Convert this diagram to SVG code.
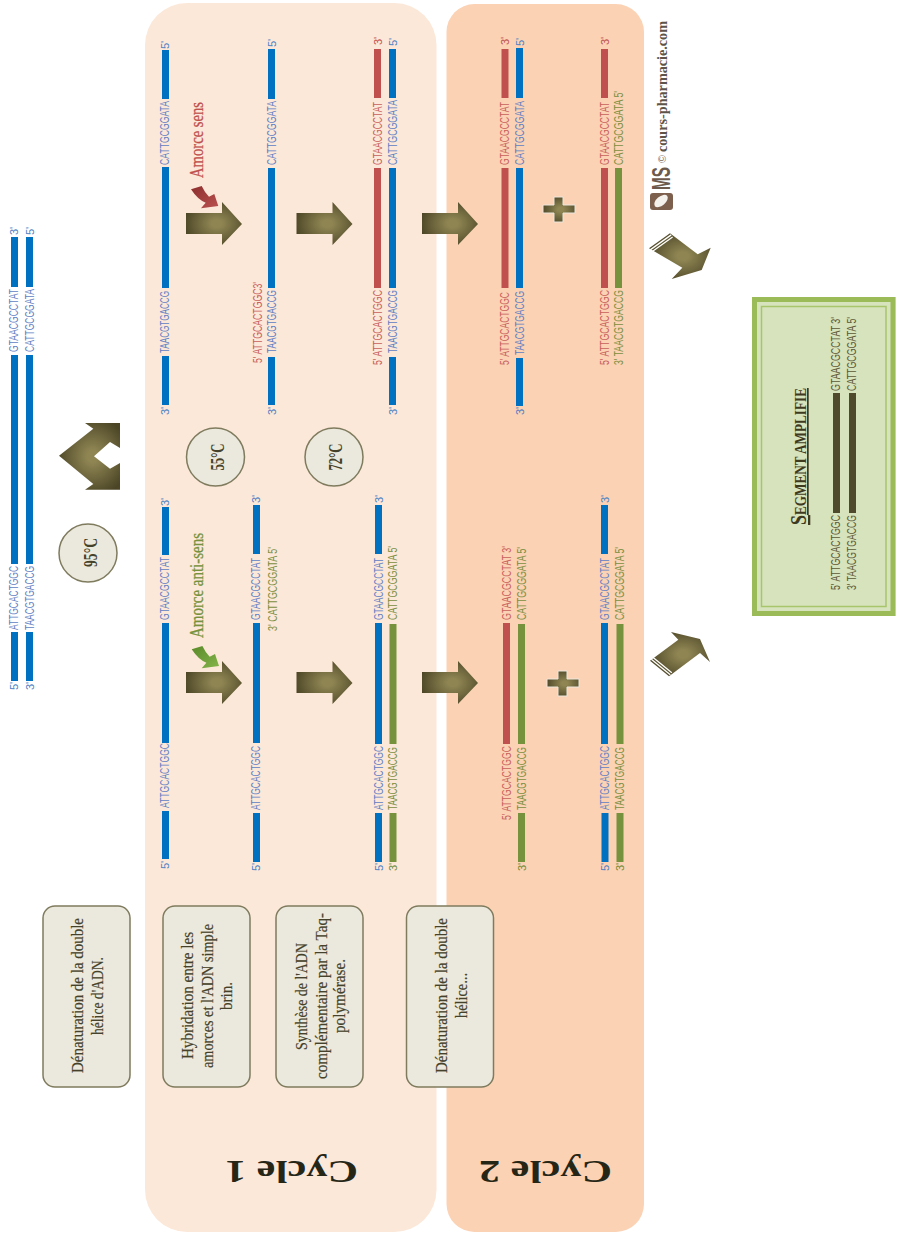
<svg xmlns="http://www.w3.org/2000/svg" width="902" height="1233" viewBox="0 0 902 1233">
<style>
text{font-family:"Liberation Sans",Arial,sans-serif}
.t{font-size:12.500px;fill:#5f7fc4}
.r{font-size:12.500px;fill:#c8605c}
.g{font-size:12.500px;fill:#7a8f3e}
.k{font-size:12.500px;fill:#5c5836}
.lb{font-size:11px;fill:#4a7fc4}
.lr{font-size:11px;fill:#c0504d}
.lg{font-size:11px;fill:#6f8a38}
.s{fill:none;stroke-width:7}
.bl{stroke:#0070c0}.re{stroke:#c0504d}.ol{stroke:#76923c}.dk{stroke:#4f4a2b}
.box{fill:#ebe9dd;stroke:#7f7b5e;stroke-width:1.500}
.bt,.tt,.ct,.am{font-family:"Liberation Serif",serif}
.bt{font-size:17px;fill:#45412a;stroke:#45412a;stroke-width:.2}
.tt{font-size:18px;font-weight:bold;fill:#45412a}
.ct{font-size:31px;font-weight:bold;fill:#262616}
.am{font-size:18px;stroke-width:.3}
.ar{fill:url(#ag)}
.st{fill:none;stroke:#fff;stroke-width:1.300}
</style>
<defs>
<radialGradient id="ag" cx="0.55" cy="0.5" r="0.6"><stop offset="0.15" stop-color="#8f8553"/><stop offset="1" stop-color="#4b4526"/></radialGradient>
<linearGradient id="rg" x1="0" y1="0" x2="1" y2="1"><stop offset="0" stop-color="#8c2f2d"/><stop offset="1" stop-color="#b9514f"/></linearGradient>
<linearGradient id="gg" x1="0" y1="0" x2="1" y2="1"><stop offset="0" stop-color="#5a8a2a"/><stop offset="1" stop-color="#84b44a"/></linearGradient>
<polygon id="ra" points="0,-11 36,-11 36,-22 56,0 36,21 36,10 0,10"/>
</defs>
<g id="panels">
<rect id="cycle1" x="145" y="3" width="291.500" height="1229" rx="42" fill="#fce8d9"/>
<rect id="cycle2" x="446.500" y="4" width="197.500" height="1228" rx="28" fill="#fbd2b4"/>
<text class="ct" transform="translate(358 1161) rotate(180)" textLength="133" lengthAdjust="spacingAndGlyphs">Cycle 1</text>
<text class="ct" transform="translate(612 1161) rotate(180)" textLength="133" lengthAdjust="spacingAndGlyphs">Cycle 2</text>
</g>
<g id="connectors">
<use href="#ra" class="ar" x="186" y="224"/>
<use href="#ra" class="ar" x="296.500" y="224"/>
<use href="#ra" class="ar" x="422" y="224"/>
<use href="#ra" class="ar" x="186" y="683"/>
<use href="#ra" class="ar" x="296.500" y="683"/>
<use href="#ra" class="ar" x="422" y="683"/>
<polygon class="ar" points="59,455.700 93.300,428.700 85,423 120,423 120,448 110,442 94,456.300 110,468.700 120,463 120,489.700 85,489.700 93.300,484"/>
<polygon class="ar" points="649,248.300 670,233.300 697.700,254.300 710.700,247.700 701.700,270 671.700,279 682.300,267.700"/>
<path class="st" d="M650.200 249.900L671.200 234.900M651.600 252L672.600 237"/>
<polygon class="ar" points="650,660.700 678.300,639.700 671,632 700,639 710,662 700,653 669,676.300"/>
<path class="st" d="M651.300 659.200L670.300 674.800M652.800 657.200L671.800 672.800"/>
<path d="M191 189.300L201.700 186Q205 193 209 196.700L214.300 194L218.300 206L201 208.300L205.700 202.700Q198 200 191 189.300Z" fill="url(#rg)"/>
<path d="M191.700 649.300L202.400 646Q205.700 653 209.700 656.700L215 654L219 666L201.700 668.300L206.400 662.700Q198.700 660 191.700 649.300Z" fill="url(#gg)"/>
<polygon class="ar" stroke="#ece6dc" stroke-width="1" points="554,197 563,197 563,205 575,205 575,213 563,213 563,222 554,222 554,213 543,213 543,205 554,205"/>
<polygon class="ar" stroke="#ece6dc" stroke-width="1" points="558,671 567,671 567,679 579,679 579,687 567,687 567,696 558,696 558,687 547,687 547,679 558,679"/>
</g>
<g id="temp95"><circle class="box" cx="88" cy="553" r="29"/><text class="tt" transform="translate(96.500 567) rotate(-90)" textLength="29" lengthAdjust="spacingAndGlyphs">95°C</text></g>
<g id="temp55"><circle class="box" cx="215.500" cy="457" r="29"/><text class="tt" transform="translate(224 470.500) rotate(-90)" textLength="27" lengthAdjust="spacingAndGlyphs">55°C</text></g>
<g id="temp72"><circle class="box" cx="334" cy="457" r="29"/><text class="tt" transform="translate(341.500 470.500) rotate(-90)" textLength="27" lengthAdjust="spacingAndGlyphs">72°C</text></g>
<g id="label-sens"><text class="am" fill="#c0504d" stroke="#c0504d" transform="translate(203 178) rotate(-90)" textLength="76" lengthAdjust="spacingAndGlyphs">Amorce sens</text></g>
<g id="label-antisens"><text class="am" fill="#76923c" stroke="#76923c" transform="translate(203 638) rotate(-90)" textLength="105" lengthAdjust="spacingAndGlyphs">Amorce anti-sens</text></g>
<g id="start-duplex">
<path class="s bl" d="M14.500 237V287M14.500 355V564M14.500 632V681M29.500 237V287M29.500 355V564M29.500 632V681"/>
<text class="lb" transform="translate(18 235) rotate(-90)">3'</text>
<text class="t" transform="translate(18 352) rotate(-90)" textLength="63" lengthAdjust="spacingAndGlyphs">GTAACGCCTAT</text>
<text class="t" transform="translate(18 630) rotate(-90)" textLength="64" lengthAdjust="spacingAndGlyphs">ATTGCACTGGC</text>
<text class="lb" transform="translate(18 690) rotate(-90)">5'</text>
<text class="lb" transform="translate(33.500 235) rotate(-90)">5'</text>
<text class="t" transform="translate(33.500 352) rotate(-90)" textLength="63" lengthAdjust="spacingAndGlyphs">CATTGCGGATA</text>
<text class="t" transform="translate(33.500 630) rotate(-90)" textLength="64" lengthAdjust="spacingAndGlyphs">TAACGTGACCG</text>
<text class="lb" transform="translate(33.500 690) rotate(-90)">3'</text>
</g>
<g id="c1-a-top">
<path class="s bl" d="M165.500 50V99M165.500 167V288M165.500 356V405"/>
<text class="lb" transform="translate(169 49) rotate(-90)">5'</text>
<text class="t" transform="translate(169 165) rotate(-90)" textLength="64" lengthAdjust="spacingAndGlyphs">CATTGCGGATA</text>
<text class="t" transform="translate(169 353) rotate(-90)" textLength="62" lengthAdjust="spacingAndGlyphs">TAACGTGACCG</text>
<text class="lb" transform="translate(169 415) rotate(-90)">3'</text>
</g>
<g id="c1-a-low">
<path class="s bl" d="M165.500 507V555M165.500 623V743M165.500 811V859"/>
<text class="lb" transform="translate(169 506) rotate(-90)">3'</text>
<text class="t" transform="translate(169 620) rotate(-90)" textLength="63" lengthAdjust="spacingAndGlyphs">GTAACGCCTAT</text>
<text class="t" transform="translate(169 808) rotate(-90)" textLength="65" lengthAdjust="spacingAndGlyphs">ATTGCACTGGC</text>
<text class="lb" transform="translate(169 869) rotate(-90)">5'</text>
</g>
<g id="c1-b-top">
<path class="s bl" d="M271.500 49V99M271.500 168V288M271.500 357V405"/>
<text class="lb" transform="translate(275.500 47) rotate(-90)">5'</text>
<text class="t" transform="translate(275.500 165) rotate(-90)" textLength="64" lengthAdjust="spacingAndGlyphs">CATTGCGGATA</text>
<text class="t" transform="translate(275.500 353) rotate(-90)" textLength="63" lengthAdjust="spacingAndGlyphs">TAACGTGACCG</text>
<text class="lb" transform="translate(275.500 415) rotate(-90)">3'</text>
<text class="r" transform="translate(262 363) rotate(-90)" textLength="81" lengthAdjust="spacingAndGlyphs">5' ATTGCACTGGC3'</text>
</g>
<g id="c1-b-low">
<path class="s bl" d="M256.500 505V554M256.500 623V743M256.500 813V862"/>
<text class="lb" transform="translate(260 503) rotate(-90)">3'</text>
<text class="t" transform="translate(260 620) rotate(-90)" textLength="62" lengthAdjust="spacingAndGlyphs">GTAACGCCTAT</text>
<text class="t" transform="translate(260 810) rotate(-90)" textLength="64" lengthAdjust="spacingAndGlyphs">ATTGCACTGGC</text>
<text class="lb" transform="translate(260 871) rotate(-90)">5'</text>
<text class="g" transform="translate(276.500 631) rotate(-90)" textLength="84" lengthAdjust="spacingAndGlyphs">3' CATTGCGGATA 5'</text>
</g>
<g id="c1-c-top">
<path class="s re" d="M377.500 49V98M377.500 168V288"/>
<path class="s bl" d="M392.500 49V98M392.500 168V288M392.500 357V405"/>
<text class="lr" transform="translate(381.500 45) rotate(-90)">3'</text>
<text class="r" transform="translate(381.500 165) rotate(-90)" textLength="63" lengthAdjust="spacingAndGlyphs">GTAACGCCTAT</text>
<text class="r" transform="translate(381.500 365) rotate(-90)" textLength="75" lengthAdjust="spacingAndGlyphs">5' ATTGCACTGGC</text>
<text class="lb" transform="translate(396.500 46) rotate(-90)">5'</text>
<text class="t" transform="translate(396.500 165) rotate(-90)" textLength="65" lengthAdjust="spacingAndGlyphs">CATTGCGGATA</text>
<text class="t" transform="translate(396.500 353) rotate(-90)" textLength="63" lengthAdjust="spacingAndGlyphs">TAACGTGACCG</text>
<text class="lb" transform="translate(396.500 415) rotate(-90)">3'</text>
</g>
<g id="c1-c-low">
<path class="s bl" d="M378.500 505V554M378.500 623V744M378.500 813V862"/>
<path class="s ol" d="M393 624V744M393 813V862"/>
<text class="lb" transform="translate(382.500 503) rotate(-90)">3'</text>
<text class="t" transform="translate(382.500 620) rotate(-90)" textLength="62" lengthAdjust="spacingAndGlyphs">GTAACGCCTAT</text>
<text class="t" transform="translate(382.500 810) rotate(-90)" textLength="64" lengthAdjust="spacingAndGlyphs">ATTGCACTGGC</text>
<text class="lb" transform="translate(382.500 871) rotate(-90)">5'</text>
<text class="g" transform="translate(397 620) rotate(-90)" textLength="74" lengthAdjust="spacingAndGlyphs">CATTGCGGATA 5'</text>
<text class="g" transform="translate(397 810) rotate(-90)" textLength="63" lengthAdjust="spacingAndGlyphs">TAACGTGACCG</text>
<text class="lg" transform="translate(397 871) rotate(-90)">3'</text>
</g>
<g id="c2-a-top">
<path class="s re" d="M505 49V98M505 168V288"/>
<path class="s bl" d="M519.500 48V98M519.500 168V288M519.500 358V406"/>
<text class="lr" transform="translate(509 45) rotate(-90)">3'</text>
<text class="r" transform="translate(509 165) rotate(-90)" textLength="63" lengthAdjust="spacingAndGlyphs">GTAACGCCTAT</text>
<text class="r" transform="translate(509 365) rotate(-90)" textLength="73" lengthAdjust="spacingAndGlyphs">5' ATTGCACTGGC</text>
<text class="lb" transform="translate(523.500 46) rotate(-90)">5'</text>
<text class="t" transform="translate(523.500 165) rotate(-90)" textLength="64" lengthAdjust="spacingAndGlyphs">CATTGCGGATA</text>
<text class="t" transform="translate(523.500 355) rotate(-90)" textLength="64" lengthAdjust="spacingAndGlyphs">TAACGTGACCG</text>
<text class="lb" transform="translate(523.500 415) rotate(-90)">3'</text>
</g>
<g id="c2-b-top">
<path class="s re" d="M604.500 49V98M604.500 168V288"/>
<path class="s ol" d="M618.500 168V288"/>
<text class="lr" transform="translate(608.500 45) rotate(-90)">3'</text>
<text class="r" transform="translate(608.500 165) rotate(-90)" textLength="63" lengthAdjust="spacingAndGlyphs">GTAACGCCTAT</text>
<text class="r" transform="translate(608.500 365) rotate(-90)" textLength="75" lengthAdjust="spacingAndGlyphs">5' ATTGCACTGGC</text>
<text class="g" transform="translate(622.500 165) rotate(-90)" textLength="74" lengthAdjust="spacingAndGlyphs">CATTGCGGATA 5'</text>
<text class="g" transform="translate(622.500 365) rotate(-90)" textLength="75" lengthAdjust="spacingAndGlyphs">3' TAACGTGACCG</text>
</g>
<g id="c2-a-low">
<path class="s re" d="M506.500 623V744"/>
<path class="s ol" d="M521.500 624V744M521.500 813V862"/>
<text class="r" transform="translate(510.500 620) rotate(-90)" textLength="74" lengthAdjust="spacingAndGlyphs">GTAACGCCTAT 3'</text>
<text class="r" transform="translate(510.500 820) rotate(-90)" textLength="74" lengthAdjust="spacingAndGlyphs">5' ATTGCACTGGC</text>
<text class="g" transform="translate(525.500 620) rotate(-90)" textLength="73" lengthAdjust="spacingAndGlyphs">CATTGCGGATA 5'</text>
<text class="g" transform="translate(525.500 810) rotate(-90)" textLength="63" lengthAdjust="spacingAndGlyphs">TAACGTGACCG</text>
<text class="lg" transform="translate(525.500 871) rotate(-90)">3'</text>
</g>
<g id="c2-b-low">
<path class="s bl" d="M604.500 505V554M604.500 623V744M605 813V862"/>
<path class="s ol" d="M620 624V744M620 813V862"/>
<text class="lb" transform="translate(609 503) rotate(-90)">3'</text>
<text class="t" transform="translate(609 620) rotate(-90)" textLength="62" lengthAdjust="spacingAndGlyphs">GTAACGCCTAT</text>
<text class="t" transform="translate(609 810) rotate(-90)" textLength="64" lengthAdjust="spacingAndGlyphs">ATTGCACTGGC</text>
<text class="lb" transform="translate(609 871) rotate(-90)">5'</text>
<text class="g" transform="translate(624 620) rotate(-90)" textLength="73" lengthAdjust="spacingAndGlyphs">CATTGCGGATA 5'</text>
<text class="g" transform="translate(624 810) rotate(-90)" textLength="63" lengthAdjust="spacingAndGlyphs">TAACGTGACCG</text>
<text class="lg" transform="translate(624 871) rotate(-90)">3'</text>
</g>
<g id="step1"><rect class="box" x="43" y="906" width="87" height="181" rx="12"/>
<text class="bt" transform="translate(83 1073) rotate(-90)" textLength="155" lengthAdjust="spacingAndGlyphs">Dénaturation de la double</text>
<text class="bt" transform="translate(103 1035) rotate(-90)" textLength="78" lengthAdjust="spacingAndGlyphs">hélice d'ADN.</text></g>
<g id="step2"><rect class="box" x="163" y="906" width="87" height="181" rx="12"/>
<text class="bt" transform="translate(193 1059) rotate(-90)" textLength="127" lengthAdjust="spacingAndGlyphs">Hybridation entre les</text>
<text class="bt" transform="translate(213 1068) rotate(-90)" textLength="144" lengthAdjust="spacingAndGlyphs">amorces et l'ADN simple</text>
<text class="bt" transform="translate(232 1010) rotate(-90)" textLength="28" lengthAdjust="spacingAndGlyphs">brin.</text></g>
<g id="step3"><rect class="box" x="276" y="906" width="87" height="181" rx="12"/>
<text class="bt" transform="translate(307 1050) rotate(-90)" textLength="107" lengthAdjust="spacingAndGlyphs">Synthèse de l'ADN</text>
<text class="bt" transform="translate(327 1079) rotate(-90)" textLength="166" lengthAdjust="spacingAndGlyphs">complémentaire par la Taq-</text>
<text class="bt" transform="translate(345 1033) rotate(-90)" textLength="74" lengthAdjust="spacingAndGlyphs">polymérase.</text></g>
<g id="step4"><rect class="box" x="406.500" y="906" width="87" height="181" rx="12"/>
<text class="bt" transform="translate(447 1073) rotate(-90)" textLength="155" lengthAdjust="spacingAndGlyphs">Dénaturation de la double</text>
<text class="bt" transform="translate(467 1018) rotate(-90)" textLength="45" lengthAdjust="spacingAndGlyphs">hélice...</text></g>
<g id="logo">
<rect x="650" y="193" width="23" height="17" rx="3" fill="#7d5f4e"/>
<ellipse cx="661" cy="201" rx="8" ry="4.500" transform="rotate(-40 661 201)" fill="#f4f0ec"/>
<text transform="translate(670 190) rotate(-90)" textLength="23" lengthAdjust="spacingAndGlyphs" style="font-size:25px;font-weight:bold;fill:#6d5a4d">MS</text>
<text transform="translate(666 163) rotate(-90)" textLength="8" lengthAdjust="spacingAndGlyphs" style="font-size:10px;fill:#7d6f63">©</text>
<text transform="translate(667 152) rotate(-90)" textLength="131" lengthAdjust="spacingAndGlyphs" style="font-family:'Liberation Serif',serif;font-size:15px;font-weight:bold;fill:#5e544a">cours-pharmacie.com</text>
</g>
<g id="result">
<rect x="752" y="297" width="143.500" height="319" fill="#d6e3bc"/>
<rect x="754.500" y="299.500" width="138.500" height="314" fill="none" stroke="#9bbb59" stroke-width="5"/>
<rect x="761.500" y="306.500" width="124.500" height="300" fill="none" stroke="#a9c56c" stroke-width="1.500"/>
<text transform="translate(806 525) rotate(-90)" textLength="137" lengthAdjust="spacingAndGlyphs" style="font-family:'Liberation Serif',serif;font-size:17px;font-weight:bold;fill:#3f3a1e;text-decoration:underline"><tspan style="font-size:23px">S</tspan>EGMENT AMPLIFIE</text>
<path class="s dk" d="M836.500 393V513M852.500 393V513"/>
<text class="k" transform="translate(840 590) rotate(-90)" textLength="75" lengthAdjust="spacingAndGlyphs">5' ATTGCACTGGC</text>
<text class="k" transform="translate(840 391) rotate(-90)" textLength="74" lengthAdjust="spacingAndGlyphs">GTAACGCCTAT 3'</text>
<text class="k" transform="translate(856 590) rotate(-90)" textLength="75" lengthAdjust="spacingAndGlyphs">3' TAACGTGACCG</text>
<text class="k" transform="translate(856 391) rotate(-90)" textLength="74" lengthAdjust="spacingAndGlyphs">CATTGCGGATA 5'</text>
</g>
</svg>
